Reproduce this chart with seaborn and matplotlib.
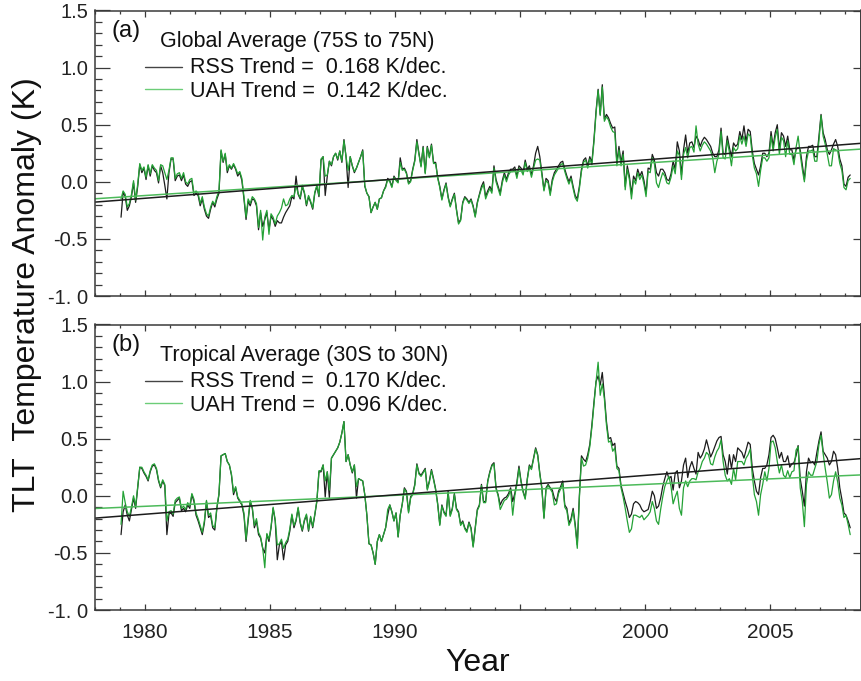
import numpy as np
import matplotlib
matplotlib.use("Agg")
import matplotlib.pyplot as plt
import seaborn as sns
from matplotlib.ticker import FixedLocator, FixedFormatter, MultipleLocator

# ---------------------------------------------------------------------------
# Monthly TLT anomalies (K), January 1979 - March 2008
# ---------------------------------------------------------------------------
rss_global = [
    -0.31, -0.09, -0.13, -0.25, -0.21, -0.13, -0.01, -0.18, -0.04, 0.15, 0.08, 0.12,   # 1979
    0.02, 0.14, 0.05, 0.14, 0.10, 0.08, -0.01, 0.14, 0.08, -0.03, -0.15, 0.08,        # 1980
    0.20, 0.20, 0.01, 0.05, 0.06, 0.01, 0.06, -0.02, -0.04, 0.00, 0.01, -0.12,        # 1981
    -0.10, -0.12, -0.21, -0.15, -0.24, -0.30, -0.32, -0.24, -0.18, -0.22, -0.15, -0.10,  # 1982
    0.27, 0.17, 0.24, 0.08, 0.14, 0.11, 0.15, 0.11, 0.05, 0.08, 0.01, -0.15,          # 1983
    -0.33, -0.17, -0.21, -0.15, -0.16, -0.21, -0.42, -0.27, -0.39, -0.33, -0.27, -0.42,  # 1984
    -0.30, -0.33, -0.39, -0.34, -0.36, -0.36, -0.31, -0.27, -0.24, -0.21, -0.13, -0.15,  # 1985
    0.05, -0.11, -0.15, -0.04, -0.10, -0.21, -0.13, -0.18, -0.24, -0.10, -0.04, -0.13,  # 1986
    0.19, 0.22, -0.12, 0.05, 0.18, 0.14, 0.22, 0.25, 0.19, 0.27, 0.17, 0.37,          # 1987
    0.22, -0.05, 0.22, 0.14, 0.08, 0.12, 0.17, 0.22, 0.28, -0.04, -0.10, -0.13,       # 1988
    -0.27, -0.22, -0.18, -0.24, -0.15, -0.14, -0.08, -0.04, 0.03, 0.01, -0.04, 0.05,  # 1989
    0.02, 0.00, 0.21, 0.11, 0.12, 0.08, -0.01, 0.01, 0.11, 0.19, 0.37, 0.25,          # 1990
    0.14, 0.31, 0.08, 0.31, 0.22, 0.33, 0.17, 0.17, 0.04, -0.04, -0.15, -0.07,        # 1991
    -0.01, -0.13, -0.21, -0.15, -0.10, -0.24, -0.36, -0.33, -0.18, -0.13, -0.15, -0.18,  # 1992
    -0.15, -0.21, -0.30, -0.18, -0.11, -0.04, 0.00, -0.13, -0.08, -0.04, -0.08, 0.14,  # 1993
    0.02, -0.04, -0.10, 0.01, 0.08, 0.02, 0.08, 0.11, 0.11, 0.13, 0.05, 0.14,         # 1994
    0.12, 0.08, 0.19, 0.11, 0.14, 0.06, 0.14, 0.25, 0.31, 0.22, 0.08, -0.07,          # 1995
    0.03, 0.01, -0.10, 0.02, 0.08, 0.11, 0.14, 0.17, 0.18, 0.11, 0.05, 0.00,          # 1996
    0.05, -0.04, -0.12, -0.15, -0.04, 0.11, 0.19, 0.21, 0.14, 0.22, 0.17, 0.37,       # 1997
    0.62, 0.81, 0.59, 0.85, 0.55, 0.59, 0.56, 0.51, 0.47, 0.48, 0.17, 0.31,           # 1998
    0.17, 0.27, -0.04, 0.14, 0.05, -0.11, 0.05, 0.01, 0.11, 0.05, 0.09, 0.01,         # 1999
    -0.10, 0.12, 0.11, 0.24, 0.19, 0.08, 0.05, 0.11, 0.11, 0.08, 0.02, 0.01,          # 2000
    0.07, 0.18, 0.11, 0.35, 0.27, 0.06, 0.28, 0.41, 0.25, 0.34, 0.35, 0.30,           # 2001
    0.40, 0.37, 0.31, 0.36, 0.39, 0.37, 0.34, 0.31, 0.25, 0.22, 0.22, 0.28,           # 2002
    0.47, 0.25, 0.24, 0.40, 0.30, 0.22, 0.34, 0.31, 0.33, 0.44, 0.37, 0.49,           # 2003
    0.35, 0.46, 0.44, 0.27, 0.16, 0.11, 0.06, 0.14, 0.25, 0.25, 0.22, 0.25,           # 2004
    0.44, 0.31, 0.43, 0.50, 0.28, 0.43, 0.40, 0.31, 0.40, 0.28, 0.28, 0.19,           # 2005
    0.28, 0.30, 0.28, 0.15, 0.02, 0.22, 0.31, 0.31, 0.32, 0.22, 0.22, 0.40,           # 2006
    0.59, 0.43, 0.37, 0.28, 0.24, 0.28, 0.33, 0.37, 0.31, 0.20, 0.14, -0.02,          # 2007
    -0.04, 0.04, 0.06,                                                                 # 2008
]

uah_global = [
    -0.15, -0.08, -0.11, -0.22, -0.19, -0.11, 0.01, -0.16, -0.02, 0.16, 0.10, 0.13,   # 1979
    0.04, 0.15, 0.07, 0.15, 0.12, 0.10, 0.01, 0.15, 0.14, 0.08, 0.02, 0.10,           # 1980
    0.21, 0.21, 0.03, 0.07, 0.08, 0.03, 0.08, 0.00, -0.02, 0.02, 0.03, -0.10,         # 1981
    -0.08, -0.10, -0.19, -0.13, -0.22, -0.28, -0.30, -0.22, -0.17, -0.20, -0.13, -0.08,  # 1982
    0.28, 0.18, 0.25, 0.10, 0.15, 0.12, 0.16, 0.12, 0.07, 0.09, 0.03, -0.13,          # 1983
    -0.31, -0.15, -0.19, -0.13, -0.15, -0.19, -0.40, -0.25, -0.51, -0.31, -0.25, -0.46,  # 1984
    -0.28, -0.31, -0.37, -0.30, -0.27, -0.23, -0.15, -0.21, -0.20, -0.15, -0.12, -0.13,  # 1985
    -0.04, -0.10, -0.14, -0.03, -0.09, -0.20, -0.12, -0.17, -0.23, -0.09, -0.03, -0.12,  # 1986
    0.20, 0.22, 0.05, 0.06, 0.18, 0.15, 0.22, 0.25, 0.20, 0.27, 0.18, 0.36,           # 1987
    0.22, 0.10, 0.22, 0.14, 0.09, 0.12, 0.17, 0.22, 0.27, -0.03, -0.10, -0.13,        # 1988
    -0.27, -0.22, -0.18, -0.24, -0.15, -0.14, -0.08, -0.05, 0.02, 0.00, -0.05, 0.04,  # 1989
    0.01, -0.01, 0.17, 0.10, 0.11, 0.07, -0.02, 0.00, 0.10, 0.18, 0.35, 0.24,         # 1990
    0.13, 0.30, 0.07, 0.30, 0.21, 0.32, 0.16, 0.16, 0.03, -0.05, -0.16, -0.08,        # 1991
    -0.02, -0.14, -0.22, -0.16, -0.11, -0.25, -0.37, -0.34, -0.19, -0.14, -0.16, -0.19,  # 1992
    -0.16, -0.22, -0.31, -0.19, -0.12, -0.06, -0.02, -0.15, -0.10, -0.06, -0.10, 0.12,  # 1993
    0.00, -0.06, -0.12, -0.01, 0.06, 0.00, 0.06, 0.09, 0.09, 0.11, 0.03, 0.12,        # 1994
    0.10, 0.06, 0.17, 0.09, 0.12, 0.04, 0.12, 0.19, 0.20, 0.19, 0.06, -0.08,          # 1995
    0.01, -0.01, -0.12, 0.00, 0.06, 0.09, 0.12, 0.15, 0.16, 0.09, 0.03, -0.02,        # 1996
    0.03, -0.06, -0.14, -0.17, -0.06, 0.09, 0.17, 0.19, 0.12, 0.20, 0.15, 0.35,       # 1997
    0.60, 0.80, 0.58, 0.83, 0.53, 0.57, 0.54, 0.48, 0.44, 0.43, 0.14, 0.28,           # 1998
    0.14, 0.24, -0.07, 0.11, 0.02, -0.15, 0.02, -0.02, 0.08, 0.02, 0.06, -0.02,       # 1999
    -0.13, 0.09, 0.08, 0.21, 0.16, -0.01, -0.05, 0.02, 0.08, 0.05, -0.01, -0.02,      # 2000
    0.04, 0.14, 0.07, 0.27, 0.23, 0.02, 0.24, 0.30, 0.21, 0.30, 0.31, 0.26,           # 2001
    0.49, 0.33, 0.27, 0.32, 0.35, 0.33, 0.30, 0.27, 0.21, 0.08, 0.18, 0.24,           # 2002
    0.44, 0.21, 0.20, 0.36, 0.26, 0.14, 0.30, 0.27, 0.29, 0.40, 0.33, 0.40,           # 2003
    0.31, 0.42, 0.40, 0.23, 0.12, 0.07, -0.04, 0.10, 0.21, 0.21, 0.18, 0.21,          # 2004
    0.40, 0.27, 0.39, 0.46, 0.24, 0.39, 0.36, 0.22, 0.36, 0.24, 0.24, 0.15,           # 2005
    0.30, 0.40, 0.24, 0.11, 0.00, 0.18, 0.27, 0.27, 0.28, 0.18, 0.18, 0.36,           # 2006
    0.58, 0.40, 0.33, 0.24, 0.14, 0.14, 0.29, 0.28, 0.27, 0.16, 0.10, -0.05,          # 2007
    -0.07, 0.01, 0.03,                                                                 # 2008
]

rss_tropics = [
    -0.34, -0.14, -0.08, -0.17, -0.22, -0.12, -0.02, -0.11, 0.07, 0.25, 0.24, 0.20,   # 1979
    0.17, 0.13, 0.21, 0.26, 0.27, 0.23, 0.13, 0.07, 0.13, 0.09, -0.34, -0.16,         # 1980
    -0.15, -0.18, -0.06, -0.04, -0.02, -0.13, -0.11, -0.14, -0.08, -0.11, 0.01, -0.05,  # 1981
    -0.17, -0.22, -0.28, -0.34, -0.24, -0.05, -0.19, -0.17, -0.28, -0.30, -0.11, 0.01,  # 1982
    0.35, 0.36, 0.37, 0.30, 0.27, 0.18, 0.01, 0.07, -0.02, -0.05, -0.08, -0.17,       # 1983
    -0.40, -0.22, -0.05, -0.11, -0.28, -0.22, -0.34, -0.37, -0.46, -0.50, -0.34, -0.40,  # 1984
    -0.28, -0.11, -0.22, -0.56, -0.43, -0.40, -0.56, -0.43, -0.40, -0.31, -0.17, -0.28,  # 1985
    -0.22, -0.11, -0.24, -0.31, -0.22, -0.17, -0.31, -0.19, -0.28, -0.17, -0.05, 0.21,  # 1986
    0.21, 0.27, -0.01, 0.21, -0.02, 0.33, 0.36, 0.39, 0.42, 0.47, 0.55, 0.65,         # 1987
    0.30, 0.36, 0.27, 0.20, 0.27, -0.02, 0.15, 0.14, 0.13, 0.01, -0.17, -0.42,        # 1988
    -0.43, -0.50, -0.60, -0.40, -0.34, -0.40, -0.34, -0.28, -0.17, -0.08, -0.14, -0.22,  # 1989
    -0.15, -0.36, -0.17, -0.07, 0.07, 0.04, -0.14, -0.01, 0.02, 0.10, 0.28, 0.20,     # 1990
    0.18, 0.21, 0.24, 0.06, 0.13, 0.23, 0.15, 0.06, -0.07, -0.25, -0.08, -0.14,       # 1991
    -0.17, 0.04, -0.17, -0.11, 0.02, -0.11, -0.14, -0.25, -0.22, -0.28, -0.31, -0.23,  # 1992
    -0.28, -0.44, -0.28, -0.12, -0.08, 0.10, -0.05, -0.05, 0.13, 0.21, 0.27, 0.29,    # 1993
    0.07, 0.01, -0.08, -0.04, -0.02, -0.01, 0.02, 0.07, -0.05, 0.02, 0.12, 0.26,      # 1994
    0.13, 0.04, -0.02, 0.15, 0.27, 0.24, 0.33, 0.42, 0.36, 0.20, 0.07, -0.19,         # 1995
    0.07, 0.10, 0.07, 0.05, -0.02, -0.05, 0.04, 0.08, 0.13, -0.08, -0.11, -0.24,      # 1996
    -0.20, -0.11, -0.25, -0.43, 0.00, 0.35, 0.32, 0.30, 0.36, 0.45, 0.62, 0.82,       # 1997
    1.00, 1.05, 0.97, 1.08, 0.88, 0.65, 0.50, 0.51, 0.44, 0.46, 0.26, 0.24,           # 1998
    0.09, 0.02, -0.05, -0.11, -0.19, -0.16, -0.07, -0.05, -0.06, -0.08, -0.12, -0.14,  # 1999
    -0.13, -0.12, -0.05, 0.04, 0.00, -0.11, -0.09, -0.02, 0.08, 0.15, 0.21, 0.15,     # 2000
    0.17, 0.05, 0.20, 0.22, 0.07, 0.13, 0.27, 0.33, 0.16, 0.25, 0.30, 0.24,           # 2001
    0.19, 0.38, 0.33, 0.36, 0.41, 0.49, 0.42, 0.34, 0.38, 0.43, 0.48, 0.51,           # 2002
    0.52, 0.36, 0.30, 0.19, 0.36, 0.24, 0.36, 0.30, 0.42, 0.40, 0.38, 0.33,           # 2003
    0.40, 0.47, 0.45, 0.24, 0.13, 0.04, 0.01, 0.16, 0.24, 0.24, 0.27, 0.36,           # 2004
    0.51, 0.53, 0.50, 0.42, 0.33, 0.38, 0.30, 0.30, 0.35, 0.25, 0.28, 0.29,           # 2005
    0.35, 0.44, 0.15, 0.04, -0.09, 0.21, 0.33, 0.29, 0.30, 0.27, 0.38, 0.48,          # 2006
    0.56, 0.39, 0.36, 0.33, 0.27, 0.30, 0.39, 0.36, 0.24, 0.07, -0.03, -0.15,         # 2007
    -0.17, -0.22, -0.28,                                                               # 2008
]

uah_tropics = [
    -0.25, 0.04, -0.06, -0.14, -0.18, -0.10, 0.00, -0.09, 0.08, 0.25, 0.25, 0.21,     # 1979
    0.18, 0.14, 0.22, 0.27, 0.28, 0.24, 0.14, 0.08, 0.14, 0.10, -0.22, -0.14,         # 1980
    -0.13, -0.16, -0.04, -0.02, -0.01, -0.11, -0.09, -0.12, -0.06, -0.09, 0.02, -0.03,  # 1981
    -0.15, -0.20, -0.26, -0.32, -0.22, -0.04, -0.17, -0.15, -0.26, -0.28, -0.10, 0.02,  # 1982
    0.35, 0.36, 0.37, 0.30, 0.27, 0.19, 0.03, 0.08, -0.01, -0.04, -0.07, -0.15,       # 1983
    -0.38, -0.20, -0.04, -0.10, -0.26, -0.20, -0.32, -0.36, -0.46, -0.63, -0.33, -0.38,  # 1984
    -0.27, -0.10, -0.21, -0.43, -0.42, -0.38, -0.46, -0.41, -0.38, -0.29, -0.16, -0.26,  # 1985
    -0.21, -0.10, -0.23, -0.30, -0.21, -0.16, -0.30, -0.18, -0.27, -0.16, -0.04, 0.22,  # 1986
    0.22, 0.27, 0.13, 0.21, 0.05, 0.33, 0.36, 0.39, 0.42, 0.47, 0.55, 0.65,           # 1987
    0.30, 0.36, 0.27, 0.21, 0.27, 0.08, 0.15, 0.14, 0.13, 0.01, -0.17, -0.42,         # 1988
    -0.43, -0.50, -0.60, -0.40, -0.34, -0.40, -0.34, -0.28, -0.12, -0.08, -0.14, -0.22,  # 1989
    -0.15, -0.36, -0.17, -0.07, 0.06, 0.03, -0.15, -0.02, 0.01, 0.09, 0.27, 0.19,     # 1990
    0.17, 0.20, 0.23, 0.05, 0.12, 0.22, 0.14, 0.05, -0.08, -0.26, -0.09, -0.15,       # 1991
    -0.18, 0.03, -0.18, -0.12, 0.01, -0.12, -0.15, -0.26, -0.23, -0.29, -0.32, -0.24,  # 1992
    -0.29, -0.45, -0.29, -0.13, -0.09, 0.09, -0.06, -0.06, 0.12, 0.20, 0.26, 0.28,    # 1993
    0.06, 0.00, -0.12, -0.08, -0.04, -0.03, 0.00, 0.05, -0.17, 0.00, 0.10, 0.24,      # 1994
    0.12, 0.03, -0.03, 0.14, 0.26, 0.23, 0.32, 0.41, 0.35, 0.19, 0.06, -0.20,         # 1995
    0.06, 0.09, 0.06, 0.03, -0.08, -0.07, 0.02, 0.06, 0.11, -0.10, -0.13, -0.26,      # 1996
    -0.22, -0.13, -0.27, -0.46, -0.02, 0.33, 0.26, 0.27, 0.33, 0.43, 0.60, 0.80,      # 1997
    1.00, 1.17, 0.88, 0.98, 0.85, 0.62, 0.47, 0.48, 0.39, 0.42, 0.24, 0.22,           # 1998
    0.07, -0.01, -0.11, -0.22, -0.32, -0.29, -0.17, -0.17, -0.18, -0.19, -0.17, -0.21,  # 1999
    -0.19, -0.17, -0.14, -0.05, -0.11, -0.22, -0.25, -0.12, -0.01, 0.08, 0.13, 0.17,  # 2000
    0.08, -0.07, -0.01, 0.04, -0.11, -0.17, 0.07, 0.13, 0.08, 0.13, 0.15, 0.15,       # 2001
    0.14, 0.21, 0.24, 0.30, 0.33, 0.38, 0.36, 0.28, 0.27, 0.34, 0.39, 0.42,           # 2002
    0.49, 0.30, 0.18, 0.13, 0.15, 0.10, 0.24, 0.14, 0.30, 0.30, 0.30, 0.27,           # 2003
    0.33, 0.36, 0.41, 0.18, 0.01, -0.05, -0.17, 0.01, 0.10, 0.21, 0.13, 0.24,         # 2004
    0.47, 0.48, 0.42, 0.30, 0.20, 0.27, 0.18, 0.16, 0.22, 0.16, 0.21, 0.22,           # 2005
    0.40, 0.43, 0.07, -0.05, -0.27, 0.10, 0.21, 0.18, 0.18, 0.24, 0.30, 0.45,         # 2006
    0.53, 0.37, 0.24, 0.12, -0.02, 0.01, 0.13, 0.21, 0.12, -0.02, -0.08, -0.19,       # 2007
    -0.17, -0.25, -0.34,                                                               # 2008
]

# Decadal trends quoted in the panel legends (K/decade)
panel_tags = ["(a)", "(b)"]
panel_titles = ["Global Average (75S to 75N)", "Tropical Average (30S to 30N)"]
rss_trends = [0.168, 0.170]
uah_trends = [0.142, 0.096]

year_ticks = [1980, 1985, 1990, 1995, 2000, 2005]
year_labels = ["1980", "1985", "1990", "", "2000", "2005"]
anom_ticks = [-1.0, -0.5, 0.0, 0.5, 1.0, 1.5]
anom_labels = ["-1. 0", "-0.5", "0.0", "0.5", "1.0", "1.5"]

# ---------------------------------------------------------------------------
sns.set_theme(style="ticks")
plt.rcParams["font.family"] = ["Liberation Sans", "DejaVu Sans"]

RSS_COLOR = "#1c1c1c"
UAH_COLOR = "#24a236"
UAH_TREND = "#4cba5a"
UAH_KEY = "#6ccd78"
FRAME = "#3a3a3a"

W, H = 861, 681
fig = plt.figure(figsize=(W / 100, H / 100), dpi=100)

ax_left = 95 / W
ax_width = 765.5 / W
ax_height = 285.5 / H
axes = [
    fig.add_axes([ax_left, 1 - 296 / H, ax_width, ax_height]),
    fig.add_axes([ax_left, 1 - 610 / H, ax_width, ax_height]),
]

x_lo, x_hi = 1978.0, 1978.0 + 765.5 / 25.0

panels = [(rss_global, uah_global), (rss_tropics, uah_tropics)]

for i, (ax, (rss, uah)) in enumerate(zip(axes, panels)):
    rss = np.asarray(rss)
    uah = np.asarray(uah)
    months = 1979 + (np.arange(len(rss)) + 0.5) / 12.0

    sns.lineplot(x=months, y=rss, color=RSS_COLOR, lw=0.9, ax=ax,
                 estimator=None, sort=False)
    sns.lineplot(x=months, y=uah, color=UAH_COLOR, lw=0.9, ax=ax,
                 estimator=None, sort=False)

    # straight trend lines with the quoted slopes, through the series mean
    ends = np.array([x_lo, x_hi])
    for series, trend, col in ((uah, uah_trends[i], UAH_TREND),
                               (rss, rss_trends[i], RSS_COLOR)):
        slope = trend / 10.0
        icpt = series.mean() - slope * months.mean()
        sns.lineplot(x=ends, y=icpt + slope * ends, color=col, lw=1.1, ax=ax,
                     estimator=None, sort=False)

    ax.set_xlim(x_lo, x_hi)
    ax.set_ylim(-1.0, 1.5)
    ax.set_xlabel("")
    ax.set_ylabel("")

    ax.xaxis.set_major_locator(FixedLocator(year_ticks))
    ax.xaxis.set_minor_locator(MultipleLocator(1))
    ax.yaxis.set_major_locator(FixedLocator(anom_ticks))
    ax.yaxis.set_major_formatter(FixedFormatter(anom_labels))
    ax.yaxis.set_minor_locator(MultipleLocator(0.1))
    if i == 1:
        ax.xaxis.set_major_formatter(FixedFormatter(year_labels))
    else:
        ax.tick_params(axis="x", labelbottom=False)

    ax.tick_params(axis="x", which="both", direction="in", top=True,
                   bottom=True, color=FRAME, width=0.9)
    ax.tick_params(axis="x", which="major", length=4.5, pad=9,
                   labelsize=15, labelcolor="#222222")
    ax.tick_params(axis="x", which="minor", length=2.3)
    ax.tick_params(axis="y", which="both", direction="in", left=True,
                   right=False, color=FRAME, width=0.9)
    ax.tick_params(axis="y", which="major", length=10.5, pad=5,
                   labelsize=14.5, labelcolor="#222222")
    ax.tick_params(axis="y", which="minor", length=5)

    sec = ax.secondary_yaxis("right")
    sec.set_yticks(anom_ticks)
    sec.tick_params(axis="y", direction="in", length=5.8, width=0.9,
                    color=FRAME, labelright=False)
    sec.spines["right"].set_color(FRAME)

    for sp in ax.spines.values():
        sp.set_visible(True)
        sp.set_color(FRAME)
        sp.set_linewidth(1.1)

    # panel annotation and legend keys
    ax.text(0.0222, 0.908, panel_tags[i], transform=ax.transAxes,
            fontsize=17, color="#111111", va="baseline", ha="left")
    ax.text(0.0849, 0.873, panel_titles[i], transform=ax.transAxes,
            fontsize=15.5, color="#111111", va="baseline", ha="left")
    ax.plot([0.0653, 0.1136], [0.802, 0.802], transform=ax.transAxes,
            color="#444444", lw=1.0)
    ax.plot([0.0653, 0.1136], [0.725, 0.725], transform=ax.transAxes,
            color=UAH_KEY, lw=1.0)
    ax.text(0.124, 0.780, f"RSS Trend =  {rss_trends[i]:.3f} K/dec.",
            transform=ax.transAxes, fontsize=15.5, color="#111111",
            va="baseline", ha="left")
    ax.text(0.124, 0.698, f"UAH Trend =  {uah_trends[i]:.3f} K/dec.",
            transform=ax.transAxes, fontsize=15.5, color="#111111",
            va="baseline", ha="left")

fig.text(27 / W, 1 - 295 / H, "TLT  Temperature Anomaly (K)", rotation=90,
         fontsize=23, ha="center", va="center", color="#111111")
fig.text(478 / W, 1 - 671 / H, "Year", fontsize=23, ha="center",
         va="baseline", color="#111111")

fig.savefig("out.png", dpi=100)
